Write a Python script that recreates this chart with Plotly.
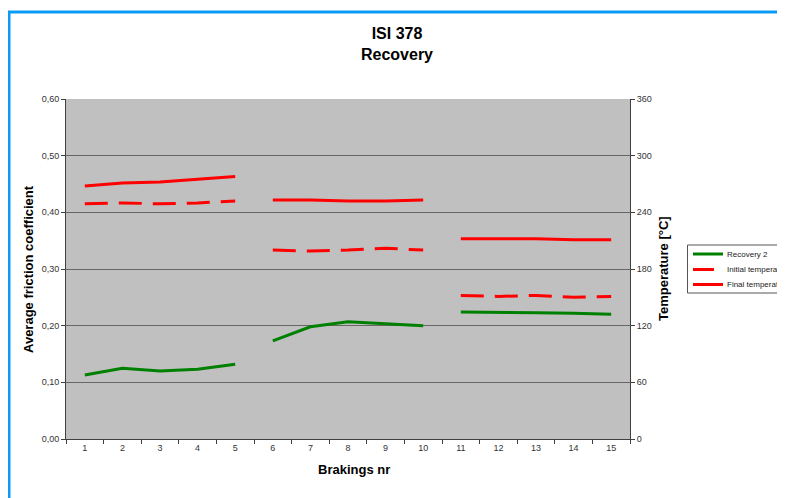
import plotly.graph_objects as go

brakings = list(range(1, 16))
recovery_2 = [0.113, 0.125, 0.120, 0.123, 0.132,
              0.173, 0.198, 0.207, 0.203, 0.200,
              0.224, 0.224, 0.223, 0.222, 0.220]
initial_temp = [249, 250, 249, 250, 252,
                200, 199, 200, 202, 200,
                152, 151, 152, 150, 151]
final_temp = [268, 271, 272, 275, 278,
              253, 253, 252, 252, 253,
              212, 212, 212, 211, 211]
groups = [(0, 5), (5, 10), (10, 15)]
left_ticks = [0, 0.1, 0.2, 0.3, 0.4, 0.5, 0.6]
right_ticks = [0, 60, 120, 180, 240, 300, 360]
series_names = ["Recovery 2", "Initial temperature", "Final temperature"]
series_colors = ["#008000", "#FF0000", "#FF0000"]

def segmented(vals):
    xs, ys = [], []
    for i, (a, b) in enumerate(groups):
        if i:
            xs.append(brakings[a] - 0.5)
            ys.append(None)
        xs += brakings[a:b]
        ys += vals[a:b]
    return xs, ys

FONT = "Liberation Sans, Arial, sans-serif"
TICKFONT = dict(family="Liberation Sans Narrow, Liberation Sans, Arial", size=9, color="#333333")

fig = go.Figure()
x, y = segmented(recovery_2)
fig.add_trace(go.Scatter(x=x, y=y, name=series_names[0], mode="lines",
                         line=dict(color=series_colors[0], width=3), connectgaps=False))
x, y = segmented(initial_temp)
fig.add_trace(go.Scatter(x=x, y=y, name=series_names[1], mode="lines", yaxis="y2",
                         line=dict(color=series_colors[1], width=3, dash="23px,11px"), connectgaps=False))
x, y = segmented(final_temp)
fig.add_trace(go.Scatter(x=x, y=y, name=series_names[2], mode="lines", yaxis="y2",
                         line=dict(color=series_colors[2], width=3), connectgaps=False))

# page offset (browser body margin)
OFF = 8
PW, PH = 785, 498
W, H = PW - OFF, PH - OFF
# plot area in page pixels
L, R, T, B = 66, 630, 99, 439
pw, ph = R - L, B - T
def px(xp): return (xp - L) / pw
def py(yp): return (B - yp) / ph

shapes = [
    dict(type="line", xref="paper", yref="paper", x0=px(9), x1=px(9), y0=py(12), y1=py(PH + 5),
         line=dict(color="#0A9BF5", width=3)),
    dict(type="line", xref="paper", yref="paper", x0=px(8), x1=px(PW + 5), y0=py(12), y1=py(12),
         line=dict(color="#0A9BF5", width=3)),
    # legend box
    dict(type="rect", xref="paper", yref="paper", x0=px(687.5), x1=px(784), y0=py(245), y1=py(293),
         line=dict(color="#555555", width=1), fillcolor="white", layer="above"),
]
annotations = [
    dict(text="<b>Average friction coefficient</b>", x=px(28), y=0.5, xref="paper", yref="paper",
         xanchor="center", yanchor="middle",
         textangle=-90, showarrow=False, font=dict(family=FONT, size=13, color="black")),
    dict(text="<b>Temperature [°C]</b>", x=px(663), y=0.5, xref="paper", yref="paper",
         xanchor="center", yanchor="middle",
         textangle=-90, showarrow=False, font=dict(family=FONT, size=13, color="black")),
    dict(text="<b>Brakings nr</b>", x=px(354), y=py(470), xref="paper", yref="paper",
         xanchor="center", yanchor="middle",
         showarrow=False, font=dict(family=FONT, size=13, color="black")),
]
legend_rows = [254, 269.5, 284.5]
legend_len = [30, 21, 30]
for name, color, yy, ln in zip(series_names, series_colors, legend_rows, legend_len):
    shapes.append(dict(type="line", xref="paper", yref="paper", x0=px(693), x1=px(693 + ln),
                       y0=py(yy), y1=py(yy), line=dict(color=color, width=3), layer="above"))
    annotations.append(dict(text=name, x=px(725), y=py(yy), xref="paper", yref="paper",
                            xanchor="left", yanchor="middle", showarrow=False,
                            font=dict(family=FONT, size=8, color="#222222")))

fig.update_layout(
    width=W, height=H,
    margin=dict(l=L - OFF, r=W - (R - OFF), t=T - OFF, b=H - (B - OFF), autoexpand=False),
    paper_bgcolor="white", plot_bgcolor="#C0C0C0",
    separators=", ",
    showlegend=False,
    title=dict(text="<b>ISI 378<br>Recovery</b>", x=(397 - OFF) / W, xref="container", xanchor="center",
               y=1 - 31 / H, yref="container", yanchor="top",
               font=dict(family=FONT, size=16, color="black")),
    xaxis=dict(range=[0.5, 15.5], tickvals=brakings, ticktext=[str(b) for b in brakings],
               ticks="", showgrid=False, zeroline=False, showline=True, linecolor="#404040",
               linewidth=1, tickfont=TICKFONT,
               minor=dict(tick0=0.5, dtick=1, ticks="outside", ticklen=4, tickcolor="#404040", showgrid=False)),
    yaxis=dict(range=[0, 0.6], tickvals=left_ticks, tickformat=".2f", showgrid=True,
               gridcolor="#666666", gridwidth=1, zeroline=False, showline=True,
               linecolor="#404040", linewidth=1, ticks="outside", ticklen=4,
               tickcolor="#404040", tickfont=TICKFONT),
    yaxis2=dict(range=[0, 360], tickvals=right_ticks, overlaying="y", side="right",
                showgrid=False, zeroline=False, showline=True, linecolor="#404040",
                linewidth=1, ticks="outside", ticklen=4, tickcolor="#404040", tickfont=TICKFONT),
    annotations=annotations,
    shapes=shapes,
)

fig.write_html("out.html")
